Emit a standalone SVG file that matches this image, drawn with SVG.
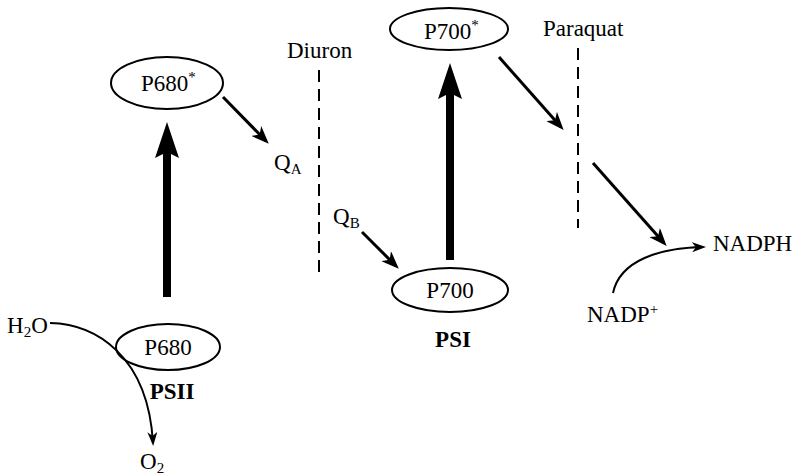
<svg xmlns="http://www.w3.org/2000/svg" width="799" height="475" viewBox="0 0 799 475">
<style>
text{font-family:"Liberation Serif","Times New Roman",serif;font-size:23px;fill:#000}
.b{font-weight:bold}
.sub{font-size:15px}
ellipse{fill:none;stroke:#000;stroke-width:2}
.thin{stroke:#000;stroke-width:3;fill:none;marker-end:url(#arr)}
.curve{stroke:#000;stroke-width:2;fill:none;marker-end:url(#arrs)}
.thick{stroke:#000;stroke-width:8;fill:none;marker-end:url(#big)}
.dash{stroke:#000;stroke-width:2;stroke-dasharray:12 7;fill:none}
</style>
<defs>
<marker id="arr" viewBox="0 0 18 14" refX="14" refY="7" markerWidth="18" markerHeight="14" orient="auto" markerUnits="userSpaceOnUse"><path d="M0,0 L18,7 L0,14 L5,7 z" fill="#000"/></marker>
<marker id="arrs" viewBox="0 0 14 10" refX="11" refY="5" markerWidth="14" markerHeight="10" orient="auto" markerUnits="userSpaceOnUse"><path d="M0,0 L14,5 L0,10 L4,5 z" fill="#000"/></marker>
<marker id="big" viewBox="0 0 36 24" refX="6" refY="12" markerWidth="36" markerHeight="24" orient="auto" markerUnits="userSpaceOnUse"><path d="M0,0 L36,12 L0,24 L6,12 z" fill="#000"/></marker>
</defs>
<g id="connectors">
<path class="thick" d="M167,297 L167,152"/>
<path class="thick" d="M450,260 L450,93"/>
<path class="thin" d="M223,97 L266,141"/>
<path class="thin" d="M362,232 L396,266"/>
<path class="thin" d="M499,57 L561,127"/>
<path class="thin" d="M593,163 L664,243"/>
<path class="curve" d="M50,323 C95,324 148,355 153,443"/>
<path class="curve" d="M613,293 C620,260 660,248 703,247"/>
</g>
<g id="diuron"><path class="dash" d="M319,70 L319,278"/><text x="287" y="58">Diuron</text></g>
<g id="paraquat"><path class="dash" d="M578,48 L578,228"/><text x="543" y="36">Paraquat</text></g>
<g id="P680star"><ellipse cx="167" cy="83" rx="56" ry="26"/><text x="141" y="91">P680<tspan class="sub" dy="-9">*</tspan></text></g>
<g id="P680"><ellipse cx="168" cy="347" rx="52" ry="23"/><text x="168" y="355" text-anchor="middle">P680</text></g>
<g id="PSII"><text class="b" x="172" y="399" text-anchor="middle">PSII</text></g>
<g id="P700star"><ellipse cx="449" cy="29" rx="59" ry="21"/><text x="424" y="39">P700<tspan class="sub" dy="-9">*</tspan></text></g>
<g id="P700"><ellipse cx="450" cy="290" rx="58" ry="22"/><text x="450" y="298" text-anchor="middle">P700</text></g>
<g id="PSI"><text class="b" x="453" y="347" text-anchor="middle">PSI</text></g>
<g id="QA"><text x="274" y="170">Q<tspan class="sub" dy="4">A</tspan></text></g>
<g id="QB"><text x="333" y="224">Q<tspan class="sub" dy="4">B</tspan></text></g>
<g id="H2O"><text x="7" y="333">H<tspan class="sub" dy="4">2</tspan><tspan dy="-4">O</tspan></text></g>
<g id="O2"><text x="140" y="469">O<tspan class="sub" dy="4">2</tspan></text></g>
<g id="NADPH"><text x="713" y="251">NADPH</text></g>
<g id="NADP"><text x="587" y="322">NADP<tspan class="sub" dy="-8">+</tspan></text></g>
</svg>
